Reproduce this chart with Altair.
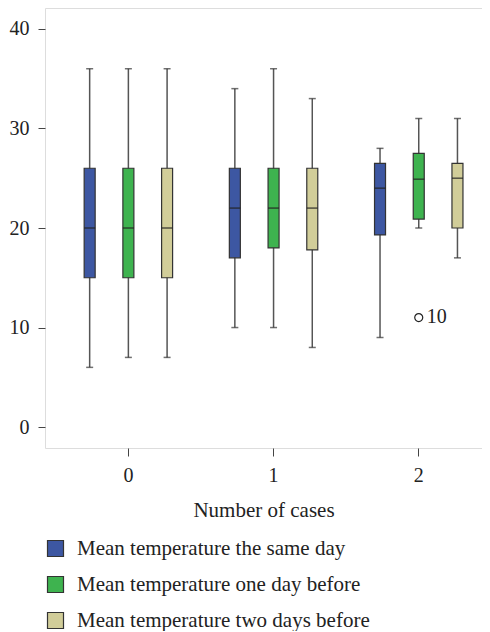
import altair as alt
import pandas as pd

cases = ["0", "1", "2"]
series = ["Mean temperature the same day", "Mean temperature one day before", "Mean temperature two days before"]
colors = ["#3d57a2", "#3eb34f", "#d1cd99"]

# per case, per series: min, q1, median, q3, max
mins = [[6, 7, 7], [10, 10, 8], [9, 20, 17]]
q1s = [[15, 15, 15], [17, 18, 17.8], [19.3, 20.9, 20]]
medians = [[20, 20, 20], [22, 22, 22], [24, 24.9, 25]]
q3s = [[26, 26, 26], [26, 26, 26], [26.5, 27.5, 26.5]]
maxs = [[36, 36, 36], [34, 36, 33], [28, 31, 31]]

outlier_case = ["2"]
outlier_series = ["Mean temperature one day before"]
outlier_value = [11]
outlier_label = ["10"]

rows = []
for i, c in enumerate(cases):
    for j, s in enumerate(series):
        rows.append(dict(cases=c, series=s, mn=mins[i][j], q1=q1s[i][j],
                         med=medians[i][j], q3=q3s[i][j], mx=maxs[i][j]))
df = pd.DataFrame(rows)
odf = pd.DataFrame(dict(cases=outlier_case, series=outlier_series,
                        value=outlier_value, label=outlier_label))

FONT = "Liberation Serif"

x = alt.X("cases:N", title="Number of cases",
          scale=alt.Scale(paddingInner=0.2, paddingOuter=0.105, align=0.83),
          axis=alt.Axis(labelAngle=0, tickSize=8, labelPadding=9, domain=False,
                        tickColor="#444", labelFont=FONT, titleFont=FONT,
                        labelFontSize=20, titleFontSize=21,
                        titlePadding=14, labelColor="#222", titleColor="#222",
                        titleFontWeight="normal"))
xo = alt.XOffset("series:N", sort=series, scale=alt.Scale(domain=series, paddingInner=0, paddingOuter=0))
yscale = alt.Scale(domain=[-2.1, 42.1], nice=False, zero=False)
y_axis = alt.Axis(values=[0, 10, 20, 30, 40], tickSize=7, labelPadding=9, domain=False,
                  grid=False, tickColor="#444", labelFont=FONT, labelFontSize=20, labelColor="#222")
color = alt.Color("series:N", sort=series, title=None,
                  scale=alt.Scale(domain=series, range=colors),
                  legend=alt.Legend(orient="none", legendX=0, legendY=530, direction="vertical",
                                    symbolType="square", symbolSize=256, symbolStrokeColor="#333",
                                    symbolStrokeWidth=1.2, symbolOpacity=1, labelFont=FONT,
                                    labelFontSize=21, labelColor="#222", rowPadding=14,
                                    labelOffset=11, labelLimit=430, padding=0))

base = alt.Chart(df).encode(x=x, xOffset=xo)

whisk = base.mark_rule(color="#555", strokeWidth=1.5).encode(
    y=alt.Y("mn:Q", scale=yscale, axis=y_axis, title=None), y2="mx:Q")
cap_lo = base.mark_tick(color="#333", size=7, thickness=1.5).encode(y=alt.Y("mn:Q", scale=yscale))
cap_hi = base.mark_tick(color="#333", size=7, thickness=1.5).encode(y=alt.Y("mx:Q", scale=yscale))
box = base.mark_bar(size=11, stroke="#333", strokeWidth=1.2).encode(
    y=alt.Y("q1:Q", scale=yscale), y2="q3:Q", color=color)
med = base.mark_tick(color="#222", size=11, thickness=1.6).encode(y=alt.Y("med:Q", scale=yscale))

obase = alt.Chart(odf).encode(x=x, xOffset=alt.XOffset("series:N", scale=alt.Scale(domain=series, paddingInner=0, paddingOuter=0)),
                              y=alt.Y("value:Q", scale=yscale))
opt = obase.mark_point(shape="circle", size=64, filled=False, color="#222", strokeWidth=1.2, opacity=1)
otext = obase.mark_text(align="left", baseline="middle", dx=8, dy=-1, fontSize=20, font=FONT, color="#222").encode(text="label:N")

chart = alt.layer(whisk, cap_lo, cap_hi, box, med, opt, otext).properties(
    width=437, height=440, padding={"left": 1, "top": 0, "right": 0, "bottom": 0},
    background="white"
).configure_view(
    fill="#f0f1f3", stroke="#444", strokeWidth=1.5
).configure(font=FONT)

chart.save("out.html", embed_options={"renderer": "svg", "actions": False})
